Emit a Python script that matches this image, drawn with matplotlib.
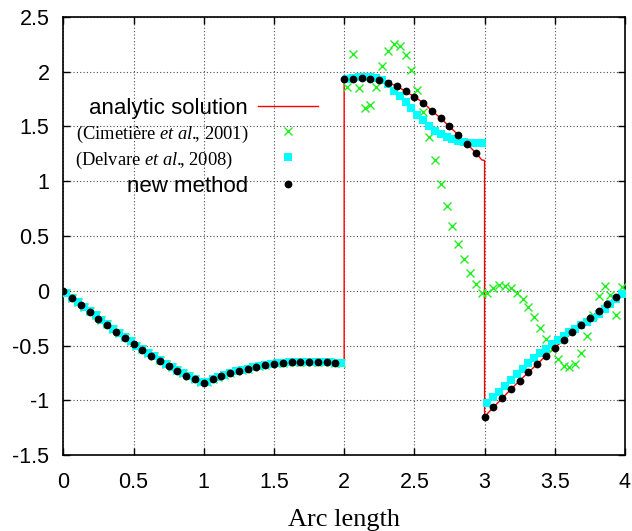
import numpy as np
import matplotlib
matplotlib.use('Agg')
import matplotlib.pyplot as plt

plt.rcParams['mathtext.fontset'] = 'custom'
plt.rcParams['mathtext.rm'] = 'Liberation Serif'
plt.rcParams['mathtext.it'] = 'Liberation Serif:italic'
plt.rcParams['axes.unicode_minus'] = False

# ---------------- data ----------------
# "new method" points at arc length k/16
new_seg1 = [0.0, -0.07, -0.13, -0.194, -0.255, -0.312, -0.373, -0.43, -0.485, -0.54,
            -0.594, -0.64, -0.688, -0.73, -0.775, -0.81]
new_seg2 = [-0.84, -0.81, -0.78, -0.75, -0.73, -0.71, -0.694, -0.68, -0.666, -0.657,
            -0.65, -0.648, -0.648, -0.65, -0.65, -0.657]
new_seg3 = [1.931, 1.937, 1.94, 1.934, 1.922, 1.897, 1.87, 1.82, 1.772, 1.717,
            1.644, 1.575, 1.5, 1.422, 1.34, 1.26]
new_seg4 = [-1.15, -1.065, -0.983, -0.9, -0.82, -0.745, -0.669, -0.593, -0.52, -0.45,
            -0.38, -0.313, -0.249, -0.182, -0.118, -0.054]

# extra points of the analytic curve at the jumps / end
analytic_jump_s = [2.0, 2.98, 3.0, 4.0]
analytic_jump_v = [-0.664, 1.195, 1.19, 0.0]

# element mid-points (k+0.5)/24 : Delvare et al. (cyan squares)
delv_seg1 = [-0.02, -0.065, -0.105, -0.145, -0.185, -0.225, -0.265, -0.305, -0.345, -0.385,
             -0.42, -0.46, -0.5, -0.535, -0.57, -0.6, -0.635, -0.665, -0.695, -0.725,
             -0.755, -0.78, -0.805, -0.83]
delv_seg2 = [-0.83, -0.81, -0.79, -0.77, -0.75, -0.735, -0.72, -0.71, -0.70, -0.69,
             -0.68, -0.67, -0.664, -0.657, -0.652, -0.65, -0.648, -0.648, -0.648, -0.65,
             -0.65, -0.652, -0.657, -0.662]
delv_seg3 = [1.934, 1.946, 1.955, 1.955, 1.955, 1.946, 1.925, 1.885, 1.827, 1.778,
             1.727, 1.666, 1.608, 1.56, 1.505, 1.462, 1.429, 1.401, 1.383, 1.368,
             1.361, 1.352, 1.346, 1.346]
delv_seg4 = [-1.022, -0.973, -0.925, -0.87, -0.818, -0.763, -0.711, -0.663, -0.617, -0.571,
             -0.529, -0.489, -0.45, -0.413, -0.38, -0.346, -0.316, -0.285, -0.249, -0.209,
             -0.167, -0.124, -0.078, -0.033]

# Cimetière et al. (green crosses), same mid-points
cim_seg1 = [-0.02, -0.065, -0.105, -0.145, -0.185, -0.225, -0.265, -0.305, -0.345, -0.385,
            -0.42, -0.46, -0.5, -0.535, -0.57, -0.6, -0.635, -0.665, -0.695, -0.725,
            -0.755, -0.78, -0.805, -0.83]
cim_seg2 = [-0.83, -0.81, -0.79, -0.77, -0.75, -0.735, -0.72, -0.71, -0.70, -0.69,
            -0.68, -0.67, -0.664, -0.657, -0.652, -0.65, -0.648, -0.648, -0.648, -0.65,
            -0.65, -0.652, -0.657, -0.662]
cim_seg3 = [1.864, 2.162, 1.852, 1.666, 1.70, 1.864, 2.053, 2.188, 2.253, 2.237,
            2.153, 2.012, 1.835, 1.63, 1.407, 1.195, 0.975, 0.777, 0.594, 0.43,
            0.293, 0.165, 0.066, -0.024]
cim_seg4 = [-0.024, 0.025, 0.05, 0.045, 0.025, -0.016, -0.075, -0.151, -0.237, -0.343,
            -0.444, -0.535, -0.623, -0.687, -0.70, -0.669, -0.566, -0.413, -0.222, -0.048,
            0.043, -0.039, -0.222, 0.031]

x_ticks = [0, 0.5, 1, 1.5, 2, 2.5, 3, 3.5, 4]
x_tick_labels = ['0', '0.5', '1', '1.5', '2', '2.5', '3', '3.5', '4']
y_ticks = [-1.5, -1, -0.5, 0, 0.5, 1, 1.5, 2, 2.5]
y_tick_labels = ['-1.5', '-1', '-0.5', '0', '0.5', '1', '1.5', '2', '2.5']

labels = ['analytic solution',
          r'(Cimetière $\mathit{et\ al.}\!\!$, 2001)',
          r'(Delvare $\mathit{et\ al.}\!\!$, 2008)    ',
          'new method']

# ---------------- assemble ----------------
new_v = np.array(new_seg1 + new_seg2 + new_seg3 + new_seg4)
new_s = np.arange(len(new_v)) / 16.0

delv_v = np.array(delv_seg1 + delv_seg2 + delv_seg3 + delv_seg4)
cim_v = np.array(cim_seg1 + cim_seg2 + cim_seg3 + cim_seg4)
mid_s = (np.arange(len(delv_v)) + 0.5) / 24.0

an_s = np.concatenate([new_s[:32], [analytic_jump_s[0]], new_s[32:48],
                       analytic_jump_s[1:3], new_s[48:], [analytic_jump_s[3]]])
an_v = np.concatenate([new_v[:32], [analytic_jump_v[0]], new_v[32:48],
                       analytic_jump_v[1:3], new_v[48:], [analytic_jump_v[3]]])

# ---------------- figure ----------------
fig = plt.figure(figsize=(6.32, 5.31), dpi=100)
ax = fig.add_axes([0.1002, 0.1431, 0.8887, 0.8249])

h1, = ax.plot(an_s, an_v, color='#ff0000', lw=1.0, zorder=2)
h2, = ax.plot(mid_s, cim_v, ls='none', marker='x', ms=6, mew=1.0, color='#22ee22', zorder=3)
h3, = ax.plot(mid_s, delv_v, ls='none', marker='s', ms=5.2, mew=0, color='#00ffff', zorder=4)
h4, = ax.plot(new_s, new_v, ls='none', marker='o', ms=5.6, mew=0, color='black', zorder=5)

ax.set_xlim(0, 4)
ax.set_ylim(-1.5, 2.5)
ax.set_xticks(x_ticks)
ax.set_xticklabels(x_tick_labels)
ax.set_yticks(y_ticks)
ax.set_yticklabels(y_tick_labels)
ax.tick_params(direction='in', length=5, width=1, top=True, right=True,
               labelsize=15.5, pad=10)
ax.tick_params(axis='x', pad=12.5)
for t in ax.get_xticklabels() + ax.get_yticklabels():
    t.set_fontfamily('Liberation Sans')
for sp in ax.spines.values():
    sp.set_linewidth(1.2)
ax.grid(True, linestyle=(0, (1, 2)), color='0.3', linewidth=0.8)
ax.set_axisbelow(True)

ax.set_xlabel('Arc length', fontfamily='Liberation Serif', fontsize=19, labelpad=11)

leg = ax.legend([h1, h2, h3, h4], labels, loc='upper right',
                bbox_to_anchor=(0.4534, 0.815), markerfirst=False, frameon=False,
                prop={'family': 'Liberation Sans', 'size': 16},
                handlelength=2.7, handletextpad=0.45, labelspacing=0.2,
                borderpad=0, borderaxespad=0, numpoints=1)
for i in (1, 2):
    leg.get_texts()[i].set_fontfamily('Liberation Serif')
    leg.get_texts()[i].set_fontsize(13.3)

fig.savefig('out.png', dpi=100)
